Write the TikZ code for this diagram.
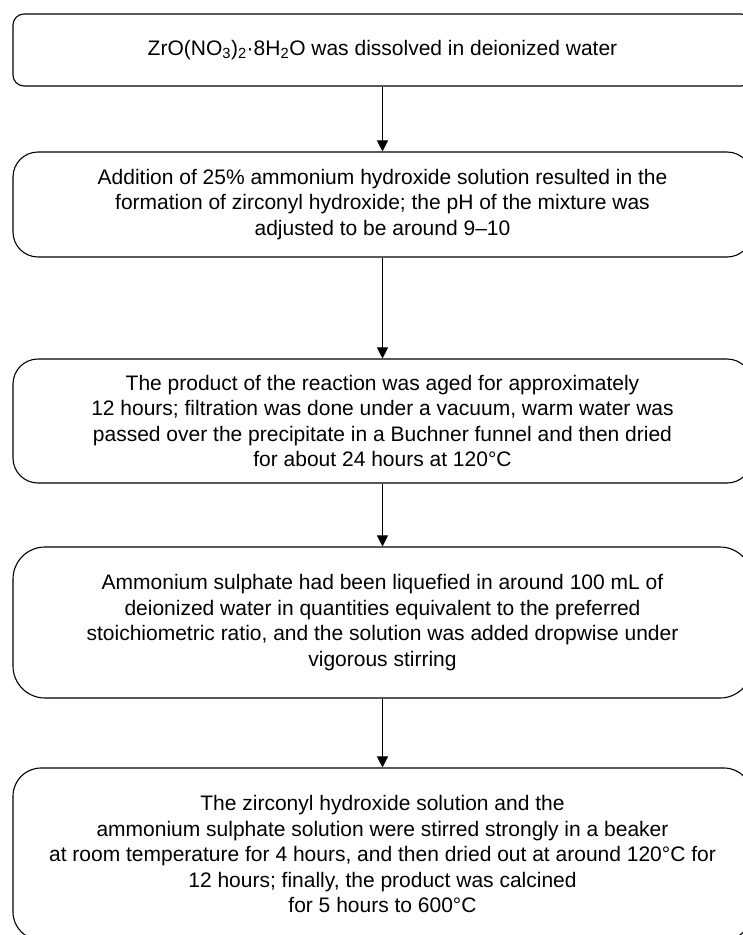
\documentclass[tikz,border=0pt]{standalone}
\usepackage{fontspec}
\setmainfont{Liberation Sans}
\usepackage{tikz}
\usetikzlibrary{arrows.meta, positioning}

\begin{document}
\begin{tikzpicture}[x=1pt, y=1pt,
        stepbox/.style={rectangle, draw=black, line width=1.1pt, fill=white, minimum width=739pt, align=center, inner sep=0pt, font=\fontsize{21pt}{25.5pt}\selectfont},
        arrow/.style={draw, -{Triangle[length=11pt, width=11pt]}, line width=1pt, color=black}
    ]

        % Marco de la figura
        \useasboundingbox (0,0) rectangle (743,-935);
        \clip (0,0) rectangle (743,-935);

        % Pasos del proceso (de arriba abajo)
        \node [stepbox, minimum height=72pt, rounded corners=11pt] (dissolve) at (382.5,-50) {ZrO(NO\textsubscript{3})\textsubscript{2}·8H\textsubscript{2}O was dissolved in deionized water};
        \node [stepbox, minimum height=105pt, rounded corners=25pt] (hydroxide) at (382.5,-204.5) {Addition of 25\% ammonium hydroxide solution resulted in the\\formation of zirconyl hydroxide; the pH of the mixture was\\adjusted to be around 9–10};
        \node [stepbox, minimum height=124pt, rounded corners=25pt] (aging) at (382.5,-421) {The product of the reaction was aged for approximately\\12 hours; filtration was done under a vacuum, warm water was\\passed over the precipitate in a Buchner funnel and then dried\\for about 24 hours at 120°C};
        \node [stepbox, minimum height=151pt, rounded corners=32pt] (sulphate) at (382.5,-622.5) {Ammonium sulphate had been liquefied in around 100 mL of\\deionized water in quantities equivalent to the preferred\\stoichiometric ratio, and the solution was added dropwise under\\vigorous stirring};
        \node [stepbox, minimum height=172pt, rounded corners=28pt] (calcine) at (382.5,-854) {The zirconyl hydroxide solution and the\\ammonium sulphate solution were stirred strongly in a beaker\\at room temperature for 4 hours, and then dried out at around 120°C for\\12 hours; finally, the product was calcined\\for 5 hours to 600°C};

        % Flechas entre pasos
        \draw [arrow] (dissolve) -- (hydroxide);
        \draw [arrow] (hydroxide) -- (aging);
        \draw [arrow] (aging) -- (sulphate);
        \draw [arrow] (sulphate) -- (calcine);

    \end{tikzpicture}
\end{document}
